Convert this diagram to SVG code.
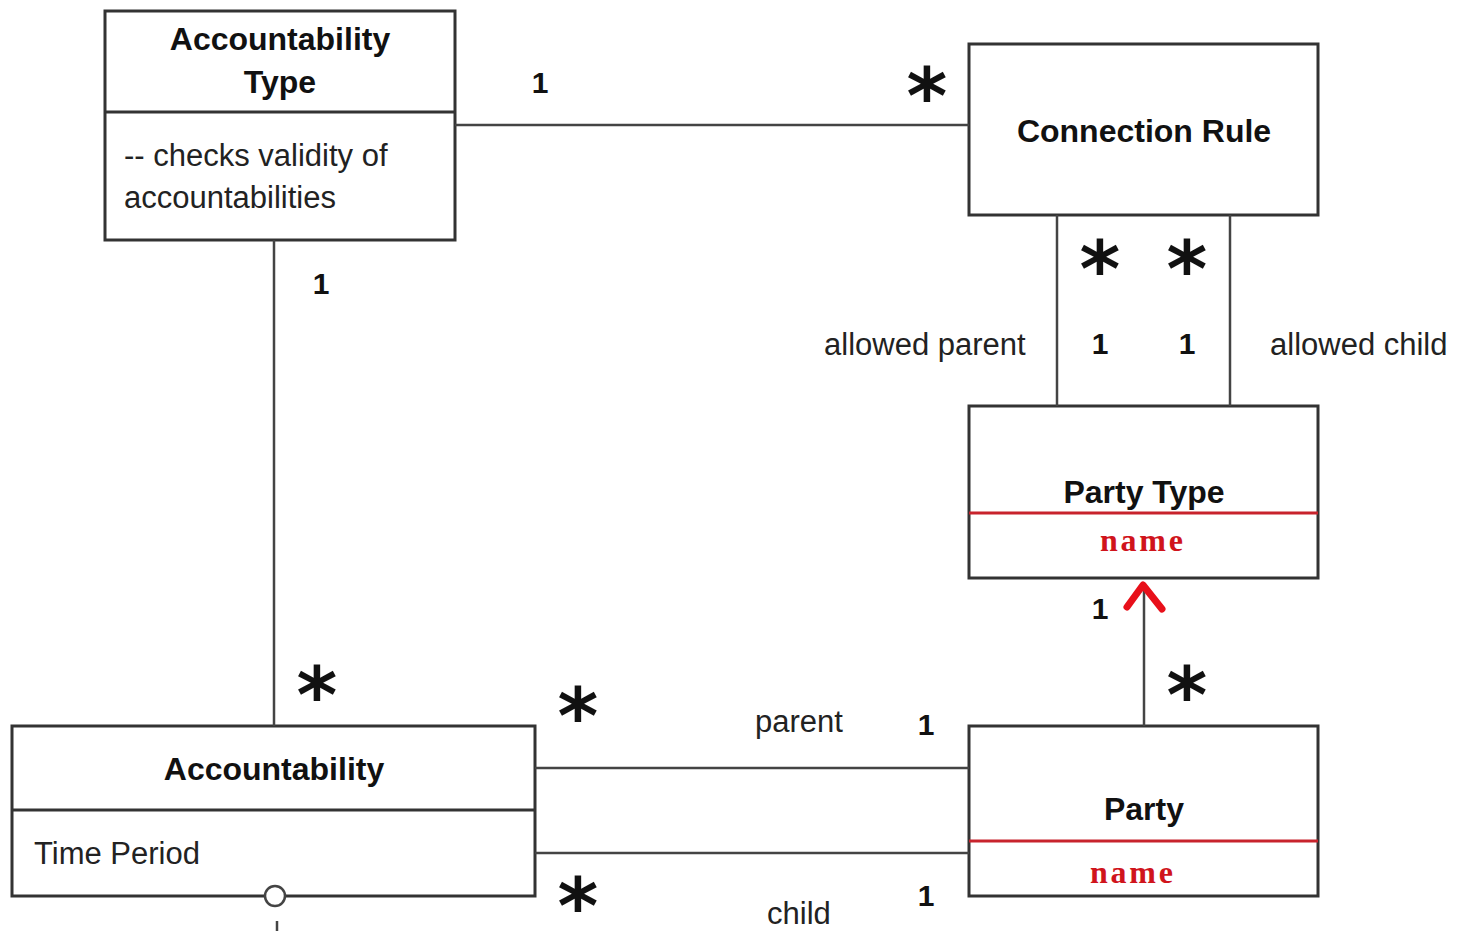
<svg xmlns="http://www.w3.org/2000/svg" width="1459" height="931" viewBox="0 0 1459 931">
  <style>
    .box { fill: #fff; stroke: #333; stroke-width: 3; }
    .div { stroke: #333; stroke-width: 3; }
    .rdiv { stroke: #c8232c; stroke-width: 3; }
    .line { fill: none; stroke: #444; stroke-width: 2.5; }
    .title { font-family: "Liberation Sans", Arial, sans-serif; font-weight: bold; font-size: 32px; fill: #111; text-anchor: middle; }
    .attr { font-family: "Liberation Sans", Arial, sans-serif; font-size: 31px; fill: #222; }
    .role { font-family: "Liberation Sans", Arial, sans-serif; font-size: 31px; fill: #222; }
    .mult { font-family: "Liberation Sans", Arial, sans-serif; font-weight: bold; font-size: 30px; fill: #111; text-anchor: middle; }
    .star { font-family: "DejaVu Sans", sans-serif; font-weight: bold; font-size: 78px; fill: #111; text-anchor: middle; }
    .mono { font-family: "Liberation Serif", "Times New Roman", serif; font-weight: bold; font-size: 32px; fill: #d0141c; }
  </style>

  <rect width="1459" height="931" fill="#fff"/>

  <g id="accountability-type">
    <rect class="box" x="105" y="11" width="350" height="229"/>
    <line class="div" x1="105" y1="112" x2="455" y2="112"/>
    <text class="title" x="280" y="50">Accountability</text>
    <text class="title" x="280" y="93">Type</text>
    <text class="attr" x="124" y="166">-- checks validity of</text>
    <text class="attr" x="124" y="208">accountabilities</text>
  </g>

  <g id="connection-rule">
    <rect class="box" x="969" y="44" width="349" height="171"/>
    <text class="title" x="1144" y="142">Connection Rule</text>
  </g>

  <g id="party-type">
    <rect class="box" x="969" y="406" width="349" height="172"/>
    <line class="rdiv" x1="969" y1="513" x2="1318" y2="513"/>
    <text class="title" x="1144" y="503">Party Type</text>
    <text class="mono" x="1100" y="551" textLength="83" lengthAdjust="spacing">name</text>
  </g>

  <g id="party">
    <rect class="box" x="969" y="726" width="349" height="170"/>
    <line class="rdiv" x1="969" y1="841" x2="1318" y2="841"/>
    <text class="title" x="1144" y="820">Party</text>
    <text class="mono" x="1090" y="883" textLength="83" lengthAdjust="spacing">name</text>
  </g>

  <g id="accountability">
    <rect class="box" x="12" y="726" width="523" height="170"/>
    <line class="div" x1="12" y1="810" x2="535" y2="810"/>
    <text class="title" x="274" y="780">Accountability</text>
    <text class="attr" x="34" y="864">Time Period</text>
  </g>

  <!-- associations -->
  <g id="connectors">
    <line class="line" x1="455" y1="125" x2="969" y2="125"/>
    <line class="line" x1="274" y1="240" x2="274" y2="726"/>
    <line class="line" x1="1057" y1="215" x2="1057" y2="406"/>
    <line class="line" x1="1230" y1="215" x2="1230" y2="406"/>
    <line class="line" x1="1144" y1="726" x2="1144" y2="590"/>
    <line class="line" x1="535" y1="768" x2="969" y2="768"/>
    <line class="line" x1="535" y1="853" x2="969" y2="853"/>
    <!-- red navigability caret -->
    <polyline points="1127,607 1143,585 1162,609" fill="none" stroke="#e8101a" stroke-width="7" stroke-linecap="round" stroke-linejoin="round"/>
    <!-- qualifier circle below Accountability -->
    <circle cx="275" cy="896" r="10" fill="#fff" stroke="#444" stroke-width="2.5"/>
    <line class="line" x1="277" y1="921" x2="277" y2="931"/>
  </g>

  <!-- multiplicities and role names -->
  <g id="labels">
    <text class="mult" x="540" y="93">1</text>
    <text class="star" x="927" y="124">*</text>
    <text class="mult" x="321" y="294">1</text>
    <text class="star" x="1100" y="297">*</text>
    <text class="star" x="1187" y="297">*</text>
    <text class="role" x="824" y="355">allowed parent</text>
    <text class="mult" x="1100" y="354">1</text>
    <text class="mult" x="1187" y="354">1</text>
    <text class="role" x="1270" y="355">allowed child</text>
    <text class="mult" x="1100" y="619">1</text>
    <text class="star" x="1187" y="723">*</text>
    <text class="star" x="317" y="723">*</text>
    <text class="star" x="578" y="744">*</text>
    <text class="role" x="755" y="732">parent</text>
    <text class="mult" x="926" y="735">1</text>
    <text class="star" x="578" y="934">*</text>
    <text class="role" x="767" y="924">child</text>
    <text class="mult" x="926" y="906">1</text>
  </g>
</svg>
